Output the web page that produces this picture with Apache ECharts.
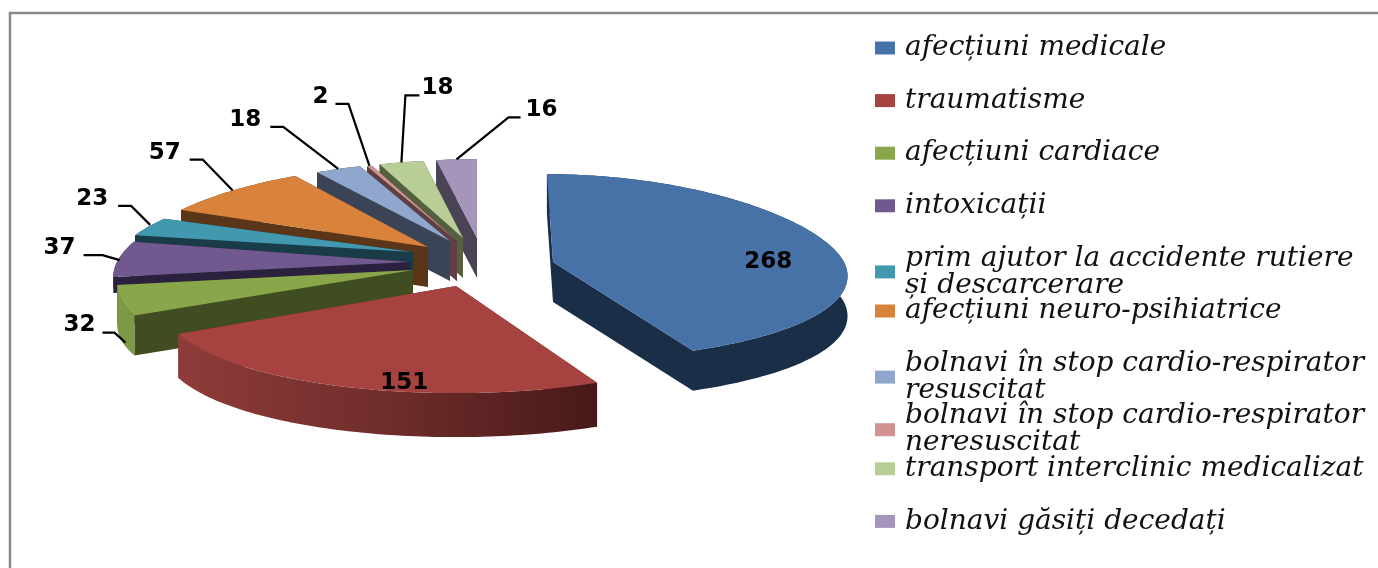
<!DOCTYPE html>
<html lang="ro">
<head>
    <meta charset="UTF-8">
    <title>Solicitari</title>
    <style>
        html, body { margin: 0; padding: 0; background: #fff; }
        #main { width: 1378px; height: 568px; }
    </style>
    <script src="https://cdn.jsdelivr.net/npm/echarts@6/dist/echarts.min.js"></script>
</head>
<body>
<div id="main"></div>
<script type="text/javascript">
    var categories = [
        'afecțiuni medicale',
        'traumatisme',
        'afecțiuni cardiace',
        'intoxicații',
        'prim ajutor la accidente rutiere\nși descarcerare',
        'afecțiuni neuro-psihiatrice',
        'bolnavi în stop cardio-respirator\nresuscitat',
        'bolnavi în stop cardio-respirator\nneresuscitat',
        'transport interclinic medicalizat',
        'bolnavi găsiți decedați'
    ];
    var values = [268, 151, 32, 37, 23, 57, 18, 2, 18, 16];

    var topColors = ['#4672a8', '#a64240', '#8aa64b', '#71588f', '#4198af', '#d8823b', '#8fa6cd', '#d19392', '#b9cd96', '#a695bb'];
    var wallColors = ['#1a2e47', '#7a3230', '#3f4d20', '#2b203d', '#193c48', '#5a3517', '#3b4356', '#5e4043', '#566040', '#4a4355'];
    var arcColors = ['#1a2e47', null, '#7c9a45', '#2b203d', '#193c48', '#5a3517', '#3b4356', '#5e4043', '#566040', '#4a4355'];

    // pie look: where each exploded slice sits and how wide its ellipse is
    var slices = [
        {ax: 553, ay: 262, rx: 291, ry: 93, lean: 0.065},
        {ax: 456, ay: 286, rx: 290, ry: 101, depth: 44},
        {ax: 413, ay: 270, rx: 292, ry: 96},
        {ax: 410, ay: 262, rx: 293, ry: 95, depth: 16},
        {ax: 413, ay: 252, rx: 293, ry: 78},
        {ax: 428, ay: 247, rx: 293, ry: 87},
        {ax: 450, ay: 241, rx: 292, ry: 84},
        {ax: 457, ay: 241, rx: 292, ry: 84},
        {ax: 463, ay: 238, rx: 285, ry: 82},
        {ax: 477, ay: 238, rx: 295, ry: 83}
    ];
    var DEPTH = 40;
    var PERSP_X = 0.0017, PERSP_Y = 0.0006;

    // label offsets from the middle of the slice's outer edge
    var labelPos = [
        {label: [-58, 20]},
        {label: [57, -4]},
        {label: [-42, 24], line: [[4, 42], [-7, 32], [-19, 32]]},
        {label: [-59, -11], line: [[1, 1], [-16, -4], [-35, -4]]},
        {label: [-56, -28], line: [[2, -2], [-17, -21], [-30, -21]]},
        {label: [-68, -38], line: [[0, 0], [-30, -31], [-43, -31]]},
        {label: [-93, -49], line: [[0, 0], [-55, -42], [-68, -42]]},
        {label: [-49, -69], line: [[0, 0], [-21, -62], [-34, -62]]},
        {label: [36, -74], line: [[0, 0], [4, -67], [18, -67]]},
        {label: [85, -49], line: [[0, 0], [52, -42], [64, -42]]}
    ];

    var LEGEND_TOP = 34, LEGEND_STEP = 52.6;

    var total = values.reduce(function (a, b) { return a + b; }, 0);

    function sliceAngles(i) {
        var sum = 0;
        for (var k = 0; k < i; k++) sum += values[k];
        return [sum / total * Math.PI * 2, (sum + values[i]) / total * Math.PI * 2];
    }

    // angle measured clockwise from the top of the pie
    function project(s, t) {
        var a = Math.cos(t) * s.ry;
        var scale = 1 - PERSP_X * a;
        var x = s.ax + Math.sin(t) * s.rx * scale;
        if (s.lean && a > 0) x -= a * s.lean;
        return [x, s.ay - a * (1 - PERSP_Y * a)];
    }

    function poly(points, fill) {
        return {type: 'polygon', shape: {points: points}, style: {fill: fill, stroke: null}};
    }

    function renderSlice(i) {
        return function () {
            var ang = sliceAngles(i), s = slices[i];
            var depth = s.depth || DEPTH;
            function down(p) { return [p[0], p[1] + depth]; }
            var steps = Math.max(2, Math.ceil((ang[1] - ang[0]) / 0.02));
            var arc = [];
            for (var k = 0; k <= steps; k++) {
                arc.push(project(s, ang[0] + (ang[1] - ang[0]) * k / steps));
            }
            var apex = [s.ax, s.ay];
            var first = arc[0], last = arc[arc.length - 1];
            var arcFill = arcColors[i] || new echarts.graphic.LinearGradient(0, 0, 1, 0, [
                {offset: 0, color: '#8f3b39'},
                {offset: 0.5, color: '#6f2d2b'},
                {offset: 1, color: '#471918'}
            ]);
            return {
                type: 'group',
                children: [
                    poly([apex, last, down(last), down(apex)], wallColors[i]),
                    poly([apex, first, down(first), down(apex)], wallColors[i]),
                    poly(arc.concat(arc.slice().reverse().map(down)), arcFill),
                    poly([apex].concat(arc), topColors[i])
                ]
            };
        };
    }

    function renderLabel(params) {
        var i = params.dataIndex, ang = sliceAngles(i);
        var p = project(slices[i], (ang[0] + ang[1]) / 2);
        var pos = labelPos[i], kids = [];
        if (pos.line) {
            kids.push({
                type: 'polyline',
                shape: {points: pos.line.map(function (o) { return [p[0] + o[0], p[1] + o[1]]; })},
                style: {stroke: '#000', lineWidth: 2.2, fill: null}
            });
        }
        kids.push({
            type: 'text',
            style: {
                text: String(values[i]),
                x: p[0] + pos.label[0], y: p[1] + pos.label[1],
                textAlign: 'center', textVerticalAlign: 'middle',
                font: 'bold 23px "DejaVu Sans"', fill: '#000'
            }
        });
        return {type: 'group', children: kids};
    }

    // back slices first, blue one goes last
    var series = [];
    for (var i = categories.length - 1; i >= 0; i--) {
        series.push({
            type: 'custom',
            name: categories[i],
            coordinateSystem: 'none',
            silent: true,
            itemStyle: {color: topColors[i]},
            data: [[values[i]]],
            renderItem: renderSlice(i)
        });
    }
    series.push({
        type: 'custom',
        name: 'etichete',
        coordinateSystem: 'none',
        silent: true,
        z: 5,
        data: values,
        renderItem: renderLabel
    });

    // one legend per row, the two line entries run into the next row like in the picture
    var legends = categories.map(function (name, n) {
        return {
            data: [name],
            orient: 'vertical',
            left: 875,
            top: LEGEND_TOP + LEGEND_STEP * n,
            padding: 0,
            itemWidth: 20,
            itemHeight: 13,
            icon: 'rect',
            selectedMode: false,
            textStyle: {
                fontFamily: 'DejaVu Serif',
                fontStyle: 'italic',
                fontSize: 28,
                color: '#111',
                lineHeight: 27,
                height: 27,
                padding: [0, 0, 0, 5]
            }
        };
    });

    var myChart = echarts.init(document.getElementById('main'));
    myChart.setOption({
        animation: false,
        backgroundColor: '#fff',
        legend: legends,
        graphic: [{
            type: 'polyline',
            silent: true,
            shape: {points: [[10, 568], [10, 13], [1378, 13]]},
            style: {stroke: '#8a8a8a', lineWidth: 2.5, fill: null}
        }],
        series: series
    });
</script>
</body>
</html>
